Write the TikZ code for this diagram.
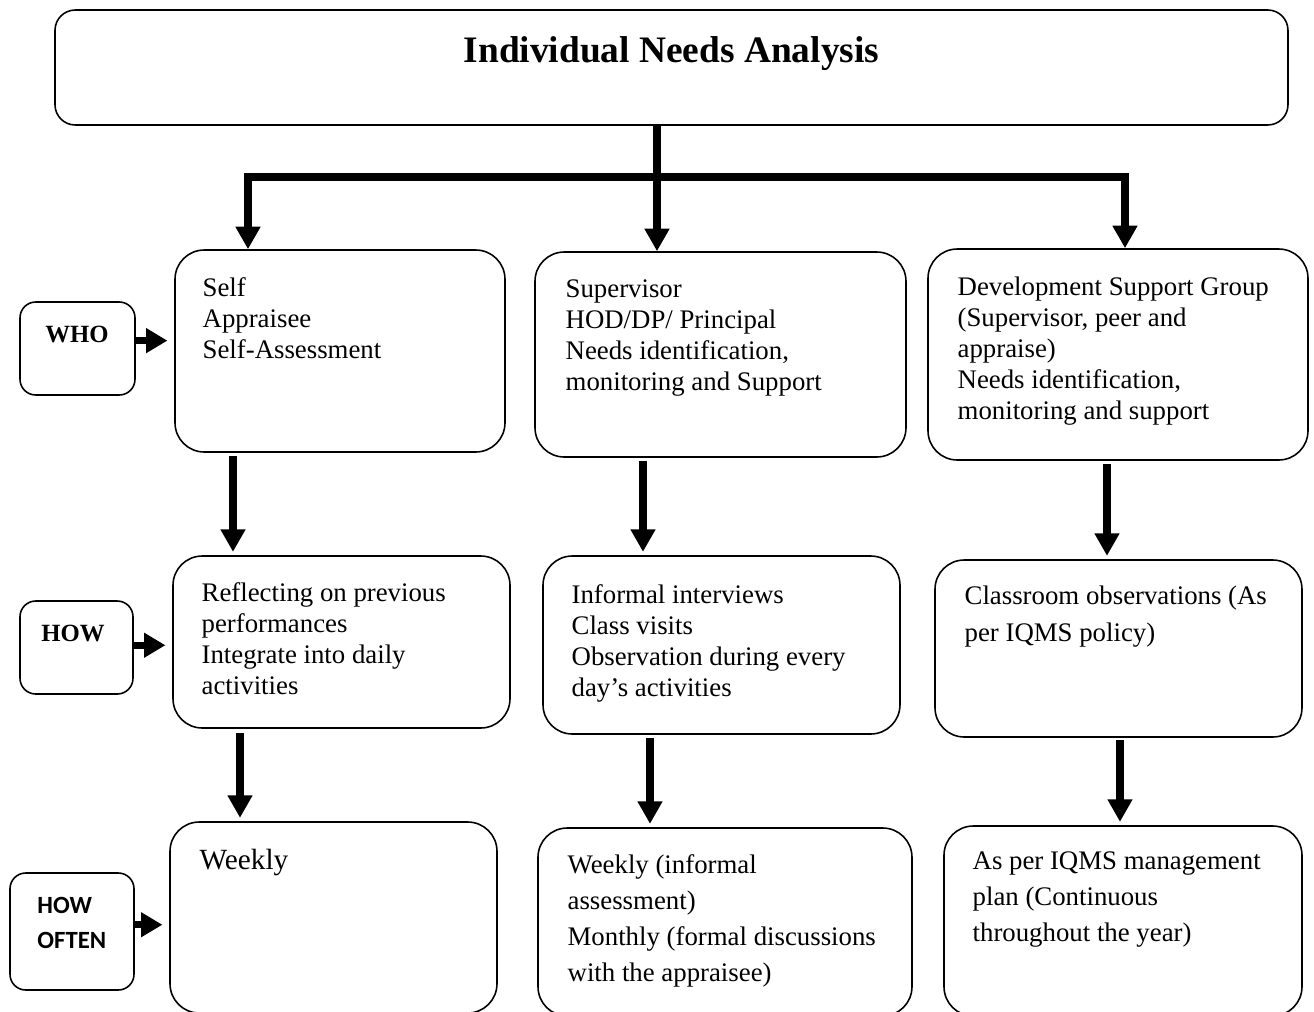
\documentclass[tikz,border=0pt]{standalone}
\usepackage{fontspec}
\setmainfont{Liberation Serif}
\newfontfamily\calibri{Carlito}
\usetikzlibrary{arrows.meta, positioning, fit, calc}
\tikzstyle{panel} = [rectangle, rounded corners=13pt, draw=black, line width=0.7pt, inner sep=0pt]
\tikzstyle{tag} = [rectangle, rounded corners=7pt, draw=black, line width=0.7pt, inner sep=0pt]
\tikzstyle{body} = [anchor=north west, align=left, inner sep=0pt, font=\fontsize{11.9}{13.8}\selectfont]
\tikzstyle{flow} = [line width=3.8pt, -{Triangle[width=10.5pt,length=10pt]}]
\tikzstyle{pointer} = [line width=3pt, -{Triangle[width=10.5pt,length=9.5pt]}, shorten >=3pt]

\begin{document}
\begin{tikzpicture}[x=0.444pt, y=-0.444pt]
\clip (0,0) rectangle (1314,1011);
% title
\node (title) [panel, rounded corners=9pt, fit={(55,10) (1288,125)}] {};
\node (titletext) [font=\fontsize{16.6}{20}\selectfont\bfseries] at ($(title.north)+(0,44)$) {Individual Needs Analysis};
% left labels
\node (who) [tag, fit={(20,302) (135,395)}] {};
\node (whotext) [font=\fontsize{11}{13}\selectfont\bfseries] at (77,334) {WHO};
\node (how) [tag, fit={(20,601) (133,694)}] {};
\node (howtext) [font=\fontsize{11}{13}\selectfont\bfseries] at (73,633) {HOW};
\node (often) [tag, fit={(10,873) (134,990)}] {};
\node (oftentext) [anchor=north west, align=left, inner sep=0pt, font=\fontsize{11}{15.6}\selectfont\calibri\bfseries] at (37,897) {HOW\\OFTEN};
% who
\node (self) [panel, fit={(175,250) (505,452)}] {};
\node (sup) [panel, fit={(535,252) (906,457)}] {};
\node (dsg) [panel, fit={(928,249) (1308,460)}] {};
\node (selftext) [body] at ($(self.north west)+(28,28)$) {Self\\Appraisee\\Self-Assessment};
\node (suptext) [body] at ($(sup.north west)+(31,28)$) {Supervisor\\HOD/DP/ Principal\\Needs identification,\\monitoring and Support};
\node (dsgtext) [body] at ($(dsg.north west)+(30,28)$) {Development Support Group\\(Supervisor, peer and\\appraise)\\Needs identification,\\monitoring and support};
% how
\node (reflect) [panel, fit={(173,556) (510,728)}] {};
\node (informal) [panel, fit={(543,556) (900,734)}] {};
\node (observe) [panel, fit={(935,560) (1302,737)}] {};
\node (reflecttext) [body] at ($(reflect.north west)+(29,27)$) {Reflecting on previous\\performances\\Integrate into daily\\activities};
\node (informaltext) [body] at ($(informal.north west)+(29,29)$) {Informal interviews\\Class visits\\Observation during every\\day’s activities};
\node (observetext) [body, font=\fontsize{11.9}{16.5}\selectfont] at ($(observe.north west)+(30,26)$) {Classroom observations (As\\per IQMS policy)};
% how often
\node (weekly) [panel, fit={(170,822) (497,1013)}] {};
\node (monthly) [panel, fit={(538,828) (912,1016)}] {};
\node (plan) [panel, fit={(944,826) (1302,1016)}] {};
\node (weeklytext) [body, font=\fontsize{13}{16}\selectfont] at ($(weekly.north west)+(30,28)$) {Weekly};
\node (monthlytext) [body, font=\fontsize{11.9}{16}\selectfont] at ($(monthly.north west)+(30,27)$) {Weekly (informal\\assessment)\\Monthly (formal discussions\\with the appraisee)};
\node (plantext) [body, font=\fontsize{11.9}{16}\selectfont] at ($(plan.north west)+(29,26)$) {As per IQMS management\\plan (Continuous\\throughout the year)};
% top connectors
\coordinate (split) at (657,177);
\coordinate (lefttop) at (248,177);
\coordinate (righttop) at (1125,177);
\draw [line width=3.6pt, line cap=rect] (lefttop) -- (righttop);
\draw [flow] (title.south -| split) -- (sup.north -| split);
\draw [flow] (lefttop) -- (lefttop |- self.north);
\draw [flow] (righttop) -- (righttop |- dsg.north);
% row connectors
\coordinate (drop1) at (233,0);
\coordinate (drop2) at (643,0);
\coordinate (drop3) at (1107,0);
\coordinate (drop4) at (240,0);
\coordinate (drop5) at (650,0);
\coordinate (drop6) at (1120,0);
\draw [flow, shorten <=1.5pt, shorten >=1.5pt] (self.south -| drop1) -- (reflect.north -| drop1);
\draw [flow, shorten <=1.5pt, shorten >=1.5pt] (sup.south -| drop2) -- (informal.north -| drop2);
\draw [flow, shorten <=1.5pt, shorten >=1.5pt] (dsg.south -| drop3) -- (observe.north -| drop3);
\draw [flow, shorten <=2pt, shorten >=1.5pt] (reflect.south -| drop4) -- (weekly.north -| drop4);
\draw [flow, shorten <=1.5pt, shorten >=1.5pt] (informal.south -| drop5) -- (monthly.north -| drop5);
\draw [flow, shorten <=1pt, shorten >=1.5pt] (observe.south -| drop6) -- (plan.north -| drop6);
% side pointers
\draw [pointer] ([yshift=3.5pt]who.east) -- ([yshift=3.5pt]who.east -| self.west);
\draw [pointer] ([yshift=1pt]how.east) -- ([yshift=1pt]how.east -| reflect.west);
\draw [pointer] ([yshift=3pt]often.east) -- ([yshift=3pt]often.east -| weekly.west);
\end{tikzpicture}
\end{document}
